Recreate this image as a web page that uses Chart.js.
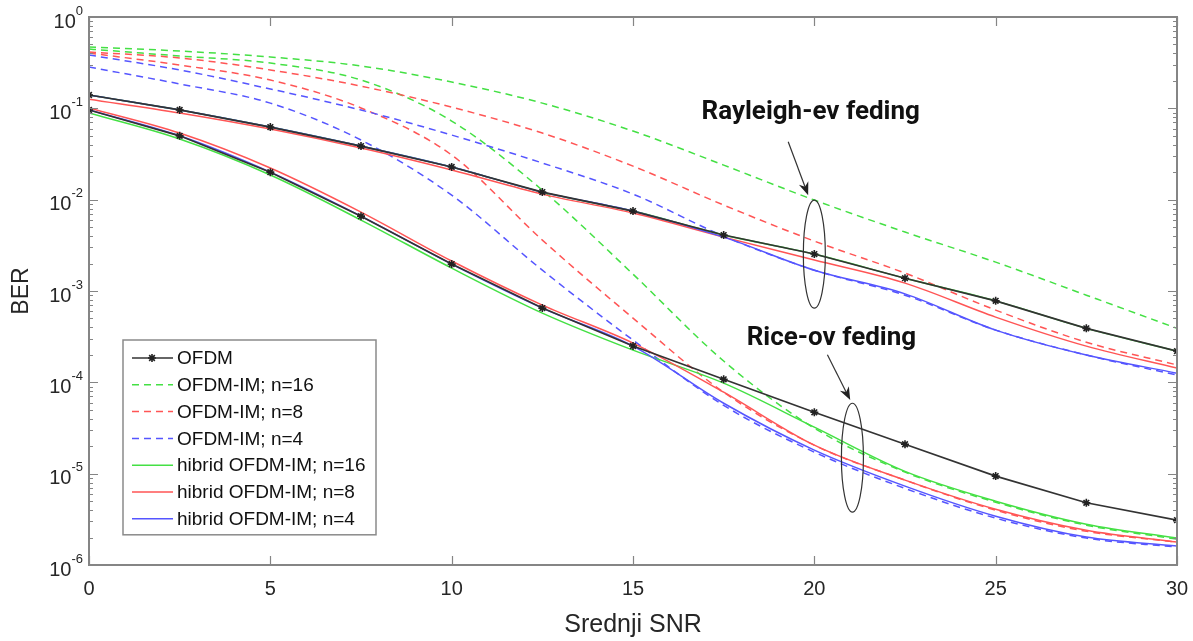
<!DOCTYPE html>
<html>
<head>
<meta charset="utf-8">
<title>BER - OFDM / OFDM-IM</title>
<script src="https://cdn.jsdelivr.net/npm/chart.js@4.4.1/dist/chart.umd.min.js"></script>
<style>
  html, body { margin: 0; padding: 0; background: #fff; }
  #wrap { width: 1193px; height: 641px; position: relative; }
</style>
</head>
<body>
<div id="wrap"><canvas id="ber"></canvas></div>
<script>
// average SNR [dB]
const snr = [0, 2.5, 5, 7.5, 10, 12.5, 15, 17.5, 20, 22.5, 25, 27.5, 30];

// Rayleigh fading
const ofdmRay  = [0.14, 0.096, 0.0624, 0.0386, 0.0228, 0.0121, 0.0075, 0.0041, 0.00254, 0.00138, 0.00078, 0.00039, 0.00022];
const imRay16  = [0.469, 0.424, 0.365, 0.291, 0.194, 0.114, 0.0564, 0.0239, 0.0099, 0.00442, 0.00207, 0.0009, 0.00039];
const imRay8   = [0.414, 0.356, 0.263, 0.175, 0.103, 0.0536, 0.0233, 0.00873, 0.00352, 0.00157, 0.000618, 0.000275, 0.000155];
const imRay4   = [0.384, 0.263, 0.163, 0.0958, 0.051, 0.0252, 0.0115, 0.00399, 0.00169, 0.0009, 0.000373, 0.000199, 0.00012];
const hybRay16 = [0.14, 0.096, 0.0624, 0.0386, 0.0228, 0.0121, 0.0075, 0.0041, 0.00254, 0.00138, 0.00078, 0.00039, 0.00022];
const hybRay8  = [0.126, 0.0889, 0.0593, 0.0367, 0.0211, 0.0115, 0.00713, 0.00389, 0.00218, 0.00122, 0.000518, 0.000249, 0.000143];
const hybRay4  = [0.14, 0.096, 0.0624, 0.0386, 0.0228, 0.0121, 0.0075, 0.00389, 0.00169, 0.00093, 0.000373, 0.000199, 0.000126];

// Rice fading
const ofdmRice  = [0.096, 0.05, 0.02, 0.0066, 0.00197, 0.00065, 0.00025, 0.000108, 4.7e-5, 2.1e-5, 9.4e-6, 4.8e-6, 3.1e-6];
const imRice16  = [0.446, 0.374, 0.313, 0.204, 0.0726, 0.0127, 0.00153, 0.000171, 3.15e-5, 1.04e-5, 4.87e-6, 2.73e-6, 1.92e-6];
const imRice8   = [0.403, 0.298, 0.204, 0.101, 0.0308, 0.00361, 0.000505, 7.8e-5, 2.05e-5, 8.5e-6, 3.98e-6, 2.34e-6, 1.78e-6];
const imRice4   = [0.283, 0.185, 0.114, 0.045, 0.0112, 0.00169, 0.00029, 5.6e-5, 1.72e-5, 6.9e-6, 3.26e-6, 1.97e-6, 1.57e-6];
const hybRice16 = [0.0889, 0.0461, 0.0186, 0.00598, 0.00178, 0.000573, 0.000225, 9.8e-5, 3.23e-5, 1.06e-5, 5.0e-6, 2.8e-6, 1.97e-6];
const hybRice8  = [0.101, 0.0536, 0.0222, 0.00731, 0.00213, 0.000701, 0.000269, 7.8e-5, 2.05e-5, 8.5e-6, 4.08e-6, 2.4e-6, 1.78e-6];
const hybRice4  = [0.096, 0.05, 0.02, 0.0066, 0.00197, 0.00065, 0.000249, 5.9e-5, 1.81e-5, 7.3e-6, 3.42e-6, 2.02e-6, 1.61e-6];

const xTicks = [0, 5, 10, 15, 20, 25, 30];
const yExponents = [0, -1, -2, -3, -4, -5, -6];

const GREEN = "#44e044";
const RED = "#ff5555";
const BLUE = "#5555ff";
const BLACK = "#333333";
const DASH = [7, 5];

var seriesCount = 0;
function series(label, values, color, dashed, inLegend, marker) {
	seriesCount++;
	return {
		label: label,
		data: values.map(function (v, i) { return { x: snr[i], y: v }; }),
		borderColor: color,
		backgroundColor: color,
		borderWidth: marker ? 1.7 : 1.5,
		borderDash: dashed ? DASH : [],
		pointStyle: "star",
		pointRadius: marker ? 4 : 0,
		pointBorderWidth: 1.6,
		pointBorderColor: "#222",
		cubicInterpolationMode: marker ? "default" : "monotone",
		tension: 0,
		inLegend: inLegend,
		// OFDM reference curves stay on top of the rest
		order: marker ? -100 - seriesCount : -seriesCount,
	};
}

const datasets = [
	series("OFDM", ofdmRay, BLACK, false, true, true),
	series("OFDM", ofdmRice, BLACK, false, false, true),
	series("OFDM-IM; n=16", imRay16, GREEN, true, true),
	series("OFDM-IM; n=16", imRice16, GREEN, true, false),
	series("OFDM-IM; n=8", imRay8, RED, true, true),
	series("OFDM-IM; n=8", imRice8, RED, true, false),
	series("OFDM-IM; n=4", imRay4, BLUE, true, true),
	series("OFDM-IM; n=4", imRice4, BLUE, true, false),
	series("hibrid OFDM-IM; n=16", hybRay16, GREEN, false, true),
	series("hibrid OFDM-IM; n=16", hybRice16, GREEN, false, false),
	series("hibrid OFDM-IM; n=8", hybRay8, RED, false, true),
	series("hibrid OFDM-IM; n=8", hybRice8, RED, false, false),
	series("hibrid OFDM-IM; n=4", hybRay4, BLUE, false, true),
	series("hibrid OFDM-IM; n=4", hybRice4, BLUE, false, false),
];

// callouts: ellipse around a group of curves + arrow + text (data units)
const callouts = [
	{ text: "Rayleigh-ev feding", tx: 19.9, ty: 0.091, ax0: 19.28, ay0: 0.043, ax1: 19.83, ay1: 0.0112, ex: 20.0, eTop: 0.0099, eBot: 0.00065 },
	{ text: "Rice-ov feding", tx: 20.47, ty: 3.05e-4, ax0: 20.36, ay0: 2.0e-4, ax1: 20.99, ay1: 6.4e-5, ex: 21.05, eTop: 5.9e-5, eBot: 3.8e-6 },
];

const FONT = "'Liberation Sans', Arial, sans-serif";

// axes box, inward ticks, tick labels, axis titles
const frame = {
	id: "frame",
	afterDatasetsDraw(chart) {
		const ctx = chart.ctx, a = chart.chartArea;
		const xs = chart.scales.x, ys = chart.scales.y;
		ctx.save();
		ctx.strokeStyle = "#858585";
		ctx.lineWidth = 1.2;
		ctx.beginPath();
		xTicks.forEach(function (t) {
			const px = Math.round(xs.getPixelForValue(t)) + 0.5;
			ctx.moveTo(px, a.bottom); ctx.lineTo(px, a.bottom - 9);
			ctx.moveTo(px, a.top); ctx.lineTo(px, a.top + 9);
		});
		for (let e = -6; e < 0; e++) {
			for (let m = 1; m < 10; m++) {
				const py = Math.round(ys.getPixelForValue(m * Math.pow(10, e))) + 0.5;
				const len = m === 1 ? 9 : 4;
				ctx.moveTo(a.left, py); ctx.lineTo(a.left + len, py);
				ctx.moveTo(a.right, py); ctx.lineTo(a.right - len, py);
			}
		}
		ctx.stroke();
		ctx.lineWidth = 2;
		ctx.strokeRect(a.left, a.top, a.right - a.left, a.bottom - a.top);

		ctx.fillStyle = "#262626";
		ctx.textBaseline = "middle";
		ctx.textAlign = "center";
		ctx.font = "20px " + FONT;
		xTicks.forEach(function (t) {
			ctx.fillText(String(t), xs.getPixelForValue(t), a.bottom + 24);
		});
		yExponents.forEach(function (e) {
			const py = ys.getPixelForValue(Math.pow(10, e));
			ctx.font = "13px " + FONT;
			const exp = String(e);
			const ew = ctx.measureText(exp).width;
			const ex = a.left - 6 - ew;
			ctx.textAlign = "left";
			ctx.fillText(exp, ex, py - 6);
			ctx.font = "20px " + FONT;
			ctx.textAlign = "right";
			ctx.fillText("10", ex, py + 5);
		});

		ctx.textAlign = "center";
		ctx.font = "25px " + FONT;
		ctx.fillText("Srednji SNR", (a.left + a.right) / 2, a.bottom + 60);
		ctx.save();
		ctx.translate(22, (a.top + a.bottom) / 2);
		ctx.rotate(-Math.PI / 2);
		ctx.font = "23px " + FONT;
		ctx.fillText("BER", 0, 0);
		ctx.restore();
		ctx.restore();
	},
};

const notes = {
	id: "notes",
	afterDatasetsDraw(chart) {
		const ctx = chart.ctx;
		const xs = chart.scales.x, ys = chart.scales.y;
		ctx.save();
		callouts.forEach(function (c) {
			const top = ys.getPixelForValue(c.eTop), bot = ys.getPixelForValue(c.eBot);
			ctx.strokeStyle = "#333";
			ctx.lineWidth = 1.2;
			ctx.beginPath();
			ctx.ellipse(xs.getPixelForValue(c.ex), (top + bot) / 2, 11, (bot - top) / 2, 0, 0, Math.PI * 2);
			ctx.stroke();

			const x0 = xs.getPixelForValue(c.ax0), y0 = ys.getPixelForValue(c.ay0);
			const x1 = xs.getPixelForValue(c.ax1), y1 = ys.getPixelForValue(c.ay1);
			const ang = Math.atan2(y1 - y0, x1 - x0);
			ctx.beginPath();
			ctx.moveTo(x0, y0); ctx.lineTo(x1 - 8 * Math.cos(ang), y1 - 8 * Math.sin(ang));
			ctx.stroke();
			ctx.fillStyle = "#222";
			ctx.beginPath();
			ctx.moveTo(x1, y1);
			ctx.lineTo(x1 - 13 * Math.cos(ang) + 5 * Math.sin(ang), y1 - 13 * Math.sin(ang) - 5 * Math.cos(ang));
			ctx.lineTo(x1 - 9 * Math.cos(ang), y1 - 9 * Math.sin(ang));
			ctx.lineTo(x1 - 13 * Math.cos(ang) - 5 * Math.sin(ang), y1 - 13 * Math.sin(ang) + 5 * Math.cos(ang));
			ctx.closePath();
			ctx.fill();

			ctx.fillStyle = "#111";
			ctx.font = "bold 26px Roboto, 'Liberation Sans', sans-serif";
			ctx.textAlign = "center";
			ctx.textBaseline = "middle";
			ctx.fillText(c.text, xs.getPixelForValue(c.tx), ys.getPixelForValue(c.ty));
		});
		ctx.restore();
	},
};

// legend box inside the plot, lower left
const boxLegend = {
	id: "boxLegend",
	afterDraw(chart) {
		const ctx = chart.ctx, a = chart.chartArea;
		const entries = chart.data.datasets.filter(function (d) { return d.inLegend; });
		const x0 = a.left + 34, y0 = a.top + 323, w = 253, rowH = 26.8;
		const h = 18 + (entries.length - 1) * rowH + 16;
		ctx.save();
		ctx.fillStyle = "#fff";
		ctx.fillRect(x0, y0, w, h);
		ctx.strokeStyle = "#8a8a8a";
		ctx.lineWidth = 1.5;
		ctx.strokeRect(x0, y0, w, h);
		entries.forEach(function (d, i) {
			const cy = y0 + 18 + i * rowH;
			ctx.strokeStyle = d.borderColor;
			ctx.lineWidth = d.borderWidth;
			ctx.setLineDash(d.borderDash);
			ctx.beginPath();
			ctx.moveTo(x0 + 9, cy); ctx.lineTo(x0 + 50, cy);
			ctx.stroke();
			ctx.setLineDash([]);
			if (d.pointRadius) {
				ctx.strokeStyle = d.pointBorderColor;
				ctx.lineWidth = d.pointBorderWidth;
				Chart.helpers.drawPoint(ctx, { pointStyle: "star", radius: d.pointRadius, rotation: 0, borderWidth: d.pointBorderWidth }, x0 + 29, cy);
			}
			ctx.fillStyle = "#111";
			ctx.font = "19px " + FONT;
			ctx.textAlign = "left";
			ctx.textBaseline = "middle";
			ctx.fillText(d.label, x0 + 54, cy + 1);
		});
		ctx.restore();
	},
};

const chart = new Chart(document.getElementById("ber"), {
	type: "line",
	data: { datasets: datasets },
	options: {
		responsive: true,
		maintainAspectRatio: false,
		animation: false,
		devicePixelRatio: 1,
		layout: { padding: { left: 89, right: 16, top: 17, bottom: 76 } },
		scales: {
			x: { type: "linear", min: 0, max: 30, display: false },
			y: { type: "logarithmic", min: 1e-6, max: 1, display: false },
		},
		plugins: {
			legend: { display: false },
			tooltip: { enabled: false },
		},
		elements: { line: { borderCapStyle: "butt" } },
	},
	plugins: [frame, notes, boxLegend],
});
</script>
</body>
</html>
